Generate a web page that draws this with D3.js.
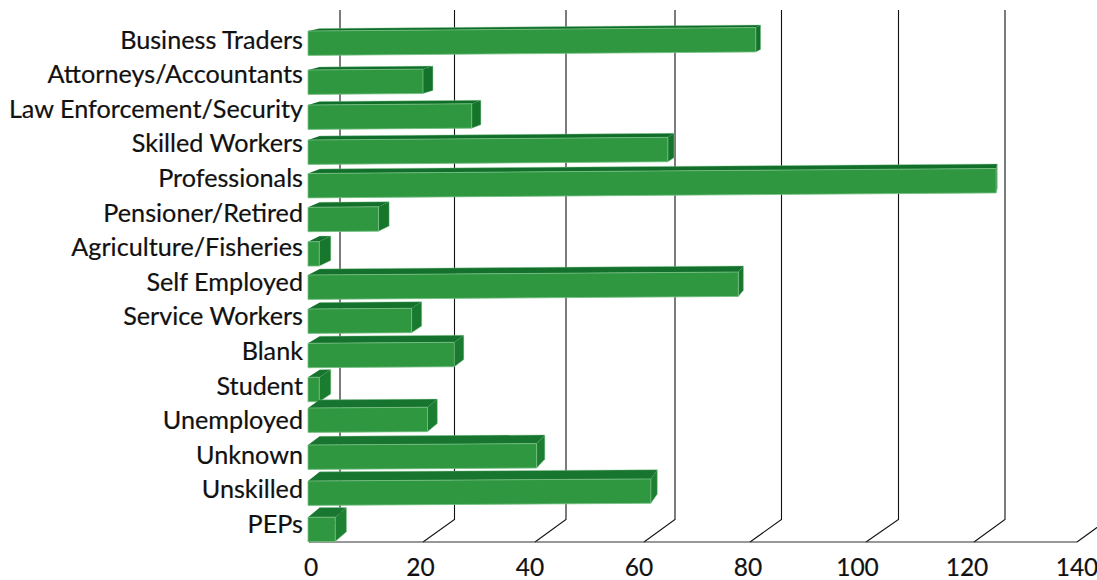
<!DOCTYPE html>
<html>
<head>
<meta charset="utf-8">
<script src="https://cdn.jsdelivr.net/npm/d3@7/dist/d3.min.js"></script>
<style>
  html, body { margin: 0; padding: 0; background: #fff; }
  svg { display: block; }
  text { font-family: Lato, "Open Sans", sans-serif; fill: #111; stroke: #111; stroke-width: 0.2; }
</style>
</head>
<body>
<svg id="chart" width="1097" height="580"></svg>
<script>
// Occupation groups, listed from the top row down
const categories = [
  "Business Traders", "Attorneys/Accountants", "Law Enforcement/Security",
  "Skilled Workers", "Professionals", "Pensioner/Retired",
  "Agriculture/Fisheries", "Self Employed", "Service Workers", "Blank",
  "Student", "Unemployed", "Unknown", "Unskilled", "PEPs"
];
const counts = [81, 20, 28.7, 64.5, 124.3, 12.2, 1.8, 77.8, 18, 25.6, 1.8, 20.8, 40.3, 61.3, 4.6];
const tickValues = [0, 20, 40, 60, 80, 100, 120, 140];

const svg = d3.select("#chart");

// The 3D projection is not quite uniform, so each axis is a piecewise scale
const floorX = d3.scaleLinear().domain(tickValues).range([309, 423, 535, 644, 750, 866, 974, 1077]);
const wallX = d3.scaleLinear().domain(tickValues).range([340, 454.5, 566, 675, 781.5, 898.5, 1005, 1108]);
const tickLabelX = d3.scaleLinear().domain(tickValues).range([311, 420.5, 530, 639, 748, 857.5, 967, 1077]);
const rowIndex = d3.range(categories.length);
const barTop = d3.scaleLinear().domain(rowIndex)
  .range([31, 70, 105, 140, 173.5, 207.3, 241.7, 275, 309, 343.3, 377.3, 408, 445, 481, 517.3]);
const labelY = d3.scalePoint().domain(categories).range([48.5, 533]);

const floorY = 542, wallBottom = 519.5, wallTop = 10;
const barHeight = 24.4, barLeft = 308;

// Depth shrinks toward the right end and grows toward the lower rows
const depthX = x => 11.7 * (1 - (x - barLeft) / 760);
const depthY = d3.scaleLinear().domain([0, 14]).range([2.5, 9.7]);
const tilt = d3.scaleLinear().domain([0, 14]).range([-0.0078, -0.006]);
const topShade = d3.scaleLinear().domain([0, 14]).range(["#0e6c28", "#197631"]);
const sideShade = d3.scaleLinear().domain([0, 14]).range(["#127229", "#1d8032"]);

// Back wall gridlines and their floor connectors
const grid = svg.append("g").attr("fill", "none").attr("stroke", "#111").attr("stroke-width", 1.1);
grid.selectAll("path").data(tickValues).join("path")
  .attr("d", v => {
    const p = d3.path();
    p.moveTo(wallX(v), wallTop);
    p.lineTo(wallX(v), wallBottom);
    p.lineTo(floorX(v), floorY);
    return p.toString();
  });
grid.append("line")
  .attr("x1", floorX(0)).attr("x2", floorX(140))
  .attr("y1", floorY).attr("y2", floorY)
  .attr("stroke", "#333");

// Extruded bars: top face, side face, highlight, then the front face
const polygon = pts => d3.line()(pts) + "Z";
const bars = svg.append("g").selectAll("g").data(categories).join("g");

bars.each(function (name, i) {
  const g = d3.select(this);
  const x1 = floorX(counts[i]);
  const yl = barTop(i);
  const yr = yl + tilt(i) * (x1 - barLeft);
  const dx = depthX(x1), dxl = depthX(barLeft), dy = depthY(i);

  g.append("path")
    .attr("d", polygon([[barLeft, yl], [barLeft + dxl, yl - dy], [x1 + dx, yr - dy], [x1, yr]]))
    .attr("fill", topShade(i));
  g.append("path")
    .attr("d", polygon([[x1, yr], [x1 + dx, yr - dy], [x1 + dx, yr - dy + barHeight], [x1, yr + barHeight]]))
    .attr("fill", sideShade(i));
  g.append("path")
    .attr("d", d3.line()([[barLeft + dxl, yl - dy], [x1 + dx, yr - dy], [x1 + dx, yr - dy + barHeight], [x1, yr + barHeight]]))
    .attr("fill", "none").attr("stroke", "#8cc996").attr("stroke-width", 0.6).attr("stroke-opacity", 0.7);
  g.append("path")
    .attr("d", polygon([[barLeft, yl], [x1, yr], [x1, yr + barHeight], [barLeft, yl + barHeight]]))
    .attr("fill", "#2e973f").attr("stroke", "#77bf84").attr("stroke-width", 0.8);
});

// Category labels, right aligned against the bars
svg.append("g").selectAll("text").data(categories).join("text")
  .attr("x", 303).attr("y", d => labelY(d))
  .attr("text-anchor", "end").attr("font-size", 25.2)
  .text(d => d);

// Value axis labels
svg.append("g").selectAll("text").data(tickValues).join("text")
  .attr("x", d => tickLabelX(d)).attr("y", 576)
  .attr("text-anchor", "middle").attr("font-size", 24.5)
  .text(d => d);
</script>
</body>
</html>
